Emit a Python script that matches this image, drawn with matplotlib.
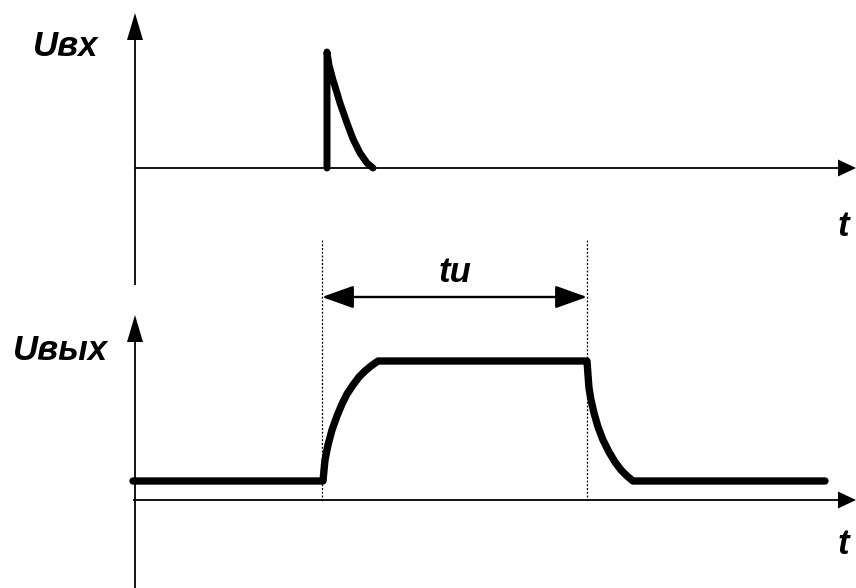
import matplotlib
matplotlib.use("Agg")
import matplotlib.pyplot as plt

# ---- data (time in px-like units from the vertical axis, voltage in arbitrary units) ----
# Input spike U_in(t)
t_in = [192, 192, 194, 198, 202, 205, 212, 218, 225, 232, 238]
u_in = [0, 116, 103, 88, 75, 65, 45, 29, 15, 5, 0]

# Output pulse U_out(t)
t_out = [-2, 188, 189, 190, 193, 197, 202, 207, 212, 218, 224, 230, 236, 243,
         452, 453, 454, 456, 459, 463, 468, 474, 480, 486, 492, 498, 690]
u_out = [19, 19, 30, 40, 55, 70, 84, 96, 106, 115, 123, 129, 134, 139,
         139, 125, 112, 100, 87, 73, 60, 48, 38, 30, 24, 19, 19]

# pulse duration markers
t_pulse_start = 187
t_pulse_end = 452

labels = {"top": "Uвх", "bottom": "Uвых", "t": "t", "tu": "tu"}

# ---- layout ----
W, H = 856, 588
fig = plt.figure(figsize=(W / 100, H / 100), dpi=100)
ax = fig.add_axes([0, 0, 1, 1])
x0 = 135                      # vertical axis position (px)
ax.set_xlim(-x0, W - x0)
ax.set_ylim(H, 0)
ax.axis("off")

base_top = 168                # baseline of input graph (px)
base_bot = 500                # baseline of output graph (px)

font = dict(family="Liberation Sans", weight="bold", style="italic", size=25)

def arrow(x, y, dx, dy, hl, hw):
    ax.arrow(x, y, dx, dy, width=1.8, head_length=hl, head_width=hw,
             length_includes_head=True, fc="black", ec="black", lw=0)

# axes of the top graph
arrow(0, 285, 0, 13 - 285, 27, 16)
arrow(0, base_top, W - x0, 0, 18, 17)
# axes of the bottom graph
arrow(0, H, 0, 315 - H, 27, 16)
arrow(-2, base_bot, W - x0 + 2, 0, 18, 17)

# signals
ax.plot(t_in, [base_top - u for u in u_in], color="black", lw=5,
        solid_capstyle="round", solid_joinstyle="round")
ax.plot(t_out, [base_bot - u for u in u_out], color="black", lw=5.3,
        solid_capstyle="round", solid_joinstyle="round")

# dotted markers of the pulse
for tp in (t_pulse_start, t_pulse_end):
    ax.plot([tp, tp], [240, base_bot], color="black", lw=0.9,
            linestyle=(0, (1.6, 1.4)))

# double arrow tu
ax.annotate("", xy=(t_pulse_start, 297), xytext=(t_pulse_end, 297),
            arrowprops=dict(arrowstyle="<|-|>,head_length=1.4,head_width=0.5",
                            mutation_scale=14, lw=1.7, color="black",
                            shrinkA=0, shrinkB=0))

# texts
ax.text(66 - x0, 46, labels["top"], ha="center", va="center", **font)
ax.text(61 - x0, 350, labels["bottom"], ha="center", va="center", **font)
ax.text(843 - x0, 226, labels["t"], ha="center", va="center", **font)
ax.text(843 - x0, 545, labels["t"], ha="center", va="center", **font)
ax.text(455 - x0, 272, labels["tu"], ha="center", va="center", **font)

fig.savefig("out.png", dpi=100, facecolor="white")
